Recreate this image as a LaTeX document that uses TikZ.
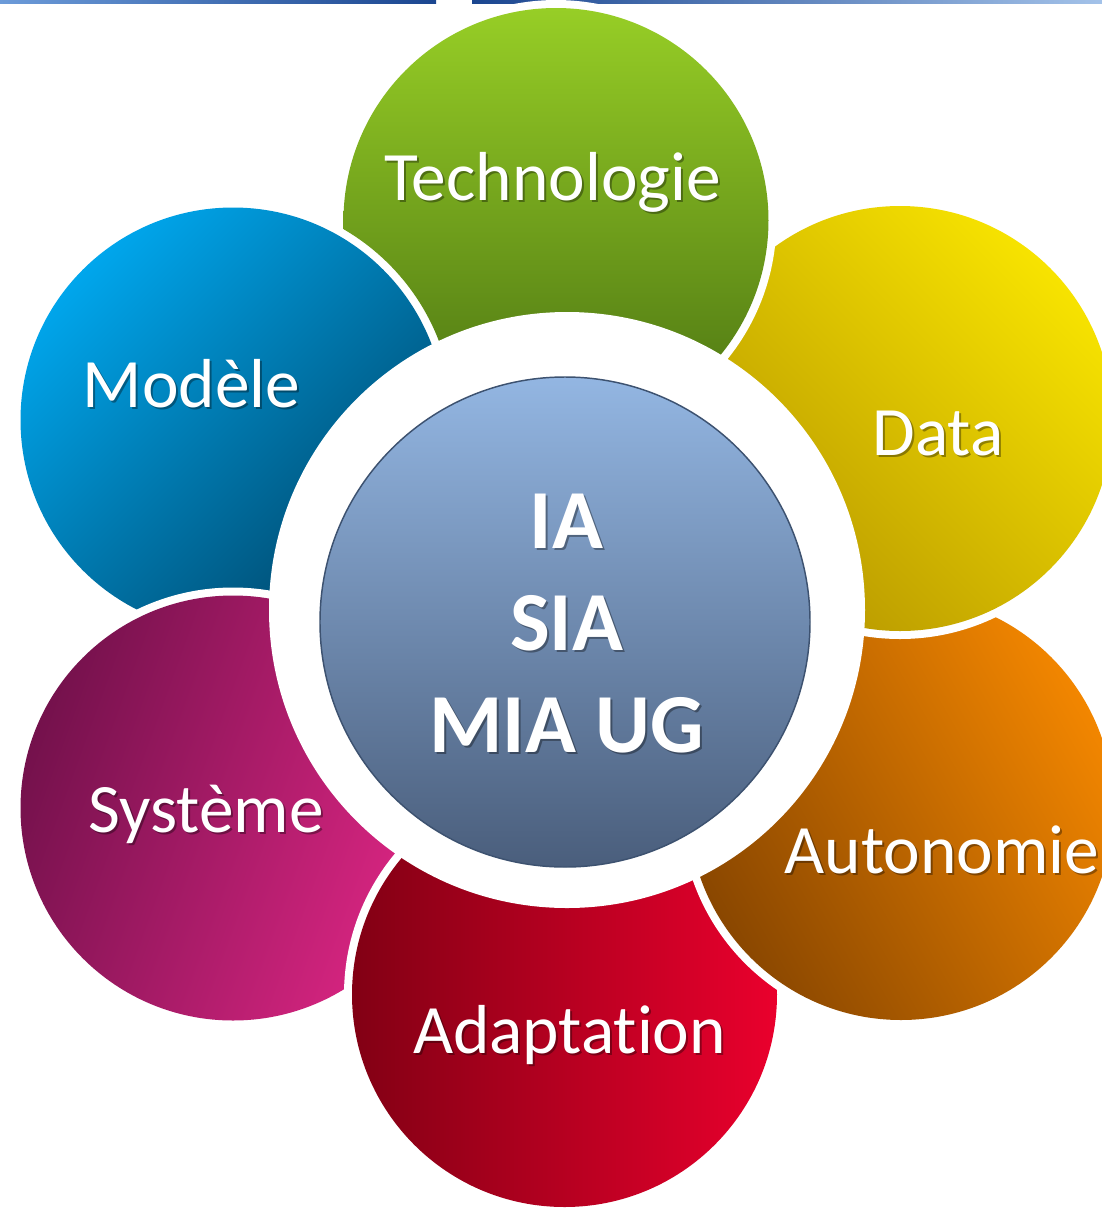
\documentclass[tikz,border=0pt]{standalone}
\usepackage{fontspec}
\setmainfont{Carlito}[Ligatures={NoCommon}]
\definecolor{techTop}{HTML}{97CE26}
\definecolor{techBot}{HTML}{4A7212}
\definecolor{modLight}{HTML}{00A6EC}
\definecolor{modDark}{HTML}{00486C}
\definecolor{dataLight}{HTML}{F7E300}
\definecolor{dataDark}{HTML}{B89800}
\definecolor{autoLight}{HTML}{F28600}
\definecolor{autoDark}{HTML}{8A4700}
\definecolor{adaLight}{HTML}{EA002D}
\definecolor{adaDark}{HTML}{820014}
\definecolor{sysLight}{HTML}{DE2684}
\definecolor{sysDark}{HTML}{74114C}
\definecolor{hubTop}{HTML}{93B6E2}
\definecolor{hubBot}{HTML}{4A5E7C}
\definecolor{hubEdge}{HTML}{3D5270}
\definecolor{lineLight}{HTML}{6C9BD9}
\definecolor{lineNavy}{HTML}{1B4690}
\definecolor{lineMid}{HTML}{2456A4}
\definecolor{lineEnd}{HTML}{A3C2E9}
\begin{document}
\begin{tikzpicture}[x=0.75pt,y=-0.75pt,
  petaltxt/.style={text=white,anchor=base,inner sep=0pt,font=\fontsize{52}{62}\selectfont},
  petalshd/.style={text=black,opacity=0.35,anchor=base,inner sep=0pt,font=\fontsize{52}{62}\selectfont},
  hubtxt/.style={text=white,anchor=base,inner sep=0pt,font=\bfseries\fontsize{63}{76}\selectfont},
  hubshd/.style={text=black,opacity=0.35,anchor=base,inner sep=0pt,font=\bfseries\fontsize{63}{76}\selectfont},
  rim/.style={fill=white}
]
\useasboundingbox (0,0) rectangle (1102,1208);

% petal centres
\coordinate (cT) at (556,220.5);
\coordinate (cD) at (900,418.5);
\coordinate (cA) at (901,807.5);
\coordinate (cP) at (564.5,994.5);
\coordinate (cS) at (233,808);
\coordinate (cM) at (233,420);
\coordinate (cR) at (567,610);
\coordinate (cH) at (565,622);

% top rule
\shade[left color=lineLight, middle color=lineMid, right color=lineNavy] (0,0) rectangle (436,3);
\shade[left color=lineNavy, middle color=lineMid, right color=lineEnd] (472,0) rectangle (1102,3);

% petals, bottom to top
\fill[rim] (cM) circle[radius=220.5];
\shade[top color=modLight, bottom color=modDark, shading angle=45] (cM) circle[radius=212.5];
\fill[rim] (cS) circle[radius=220.5];
\shade[top color=sysLight, bottom color=sysDark, shading angle=-110] (cS) circle[radius=212.5];
\fill[rim] (cP) circle[radius=220.5];
\shade[left color=adaDark, right color=adaLight] (cP) circle[radius=212.5];
\fill[rim] (cA) circle[radius=220.5];
\shade[top color=autoLight, bottom color=autoDark, shading angle=-60] (cA) circle[radius=212.5];
\fill[rim] (cD) circle[radius=220.5];
\shade[top color=dataLight, bottom color=dataDark, shading angle=-45] (cD) circle[radius=212.5];
% Technologie lies over Data but under Modele (cyclic overlap)
\begin{scope}[even odd rule]
  \clip (-50,-50) rectangle (1200,1300) (cM) circle[radius=220.5];
  \fill[rim] (cT) circle[radius=220.5];
  \shade[top color=techTop, bottom color=techBot] (cT) circle[radius=212.5];
\end{scope}

% white ring and hub
\fill[rim] (cR) circle[radius=298];
\shadedraw[top color=hubTop, bottom color=hubBot, draw=hubEdge, line width=1.1pt] (cH) circle[radius=245];

% petal labels
\node[petalshd] (sTech) at (554.5,202.5) {Technologie};
\node[petaltxt] (tTech) at (552.5,200) {Technologie};
\node[petalshd] (sMod) at (193.5,409.5) {Modèle};
\node[petaltxt] (tMod) at (191.5,407) {Modèle};
\node[petalshd] (sData) at (940,457.5) {Data};
\node[petaltxt] (tData) at (938,455) {Data};
\node[petalshd] (sAuto) at (944,875.5) {Autonomie};
\node[petaltxt] (tAuto) at (942,873) {Autonomie};
\node[petalshd] (sSys) at (208,834.5) {Système};
\node[petaltxt] (tSys) at (206,832) {Système};
\node[petalshd] (sAda) at (571.5,1055.5) {Adaptation};
\node[petaltxt] (tAda) at (569.5,1053) {Adaptation};

% hub labels
\node[hubshd] (sIA) at (568.5,550.5) {IA};
\node[hubtxt] (tIA) at (566.5,548) {IA};
\node[hubshd] (sSIA) at (568.5,652.5) {SIA};
\node[hubtxt] (tSIA) at (566.5,650) {SIA};
\node[hubshd] (sMIA) at (568.5,754.5) {MIA UG};
\node[hubtxt] (tMIA) at (566.5,752) {MIA UG};
\end{tikzpicture}
\end{document}
